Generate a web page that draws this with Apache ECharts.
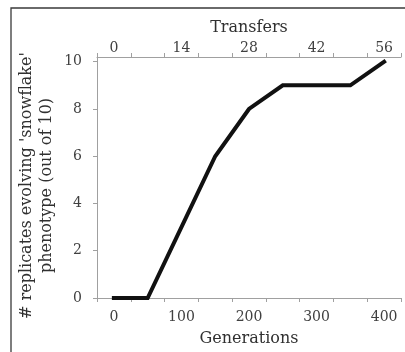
<!DOCTYPE html>
<html><head><meta charset="utf-8">
<script src="https://cdn.jsdelivr.net/npm/echarts@6/dist/echarts.min.js"></script>
<style>html,body{margin:0;padding:0;background:#fff}#c{width:405px;height:352px}</style>
</head><body><div id="c"></div>
<script>
const generations = ['0','50','100','150','200','250','300','350','400'];
const transfers = ['0','7','14','21','28','35','42','49','56'];
const replicates = [0, 0, 3, 6, 8, 9, 9, 9, 10];
const yTicks = [0, 2, 4, 6, 8, 10];

const FONT = 'DejaVu Serif';
const axisGray = '#a0a0a0';
const textCol = '#404040';
const chart = echarts.init(document.getElementById('c'), null, {renderer: 'canvas'});
chart.setOption({
  animation: false,
  backgroundColor: '#fff',
  graphic: [{
    type: 'rect', shape: {x: 11, y: 8, width: 420, height: 420},
    style: {fill: 'none', stroke: '#3a3a3a', lineWidth: 1.3}, silent: true, z: 0
  }],
  grid: {left: 97, right: 4, top: 57, bottom: 47},
  xAxis: [{
    type: 'category', position: 'bottom', data: generations, boundaryGap: true,
    name: 'Generations', nameLocation: 'middle', nameGap: 33,
    nameTextStyle: {fontFamily: FONT, fontSize: 16, color: '#303030'},
    axisLine: {show: true, lineStyle: {color: axisGray, width: 1}},
    axisTick: {show: true, interval: 0, length: 4, inside: false, lineStyle: {color: axisGray, width: 1}},
    axisLabel: {interval: 1, margin: 12, fontFamily: FONT, fontSize: 14, color: textCol}
  }, {
    type: 'category', position: 'top', data: transfers, boundaryGap: true,
    name: 'Transfers', nameLocation: 'middle', nameGap: 21,
    nameTextStyle: {fontFamily: FONT, fontSize: 16, color: '#303030'},
    axisLine: {show: true, lineStyle: {color: axisGray, width: 1}},
    axisTick: {show: true, interval: 0, length: 4, inside: false, lineStyle: {color: axisGray, width: 1}},
    axisLabel: {interval: 1, margin: 2, fontFamily: FONT, fontSize: 14, color: textCol}
  }],
  yAxis: {
    type: 'value', min: 0, max: 10.2,
    name: "# replicates evolving 'snowflake'\nphenotype (out of 10)",
    nameLocation: 'middle', nameGap: 40, nameRotate: 90, nameMoveOverlap: false,
    nameTextStyle: {fontFamily: FONT, fontSize: 16, color: '#303030', lineHeight: 20, align: 'center', padding: [0, 16, 0, 0]},
    axisLine: {show: true, lineStyle: {color: axisGray, width: 1}},
    axisTick: {show: true, length: 4, inside: false, customValues: yTicks, lineStyle: {color: axisGray, width: 1}},
    axisLabel: {customValues: yTicks, margin: 15, fontFamily: FONT, fontSize: 14, color: textCol},
    splitLine: {show: false}
  },
  series: [{
    type: 'line', xAxisIndex: 0, data: replicates,
    showSymbol: false, symbol: 'none',
    lineStyle: {color: '#111', width: 4, join: 'miter', cap: 'square'}
  }]
});
</script></body></html>
